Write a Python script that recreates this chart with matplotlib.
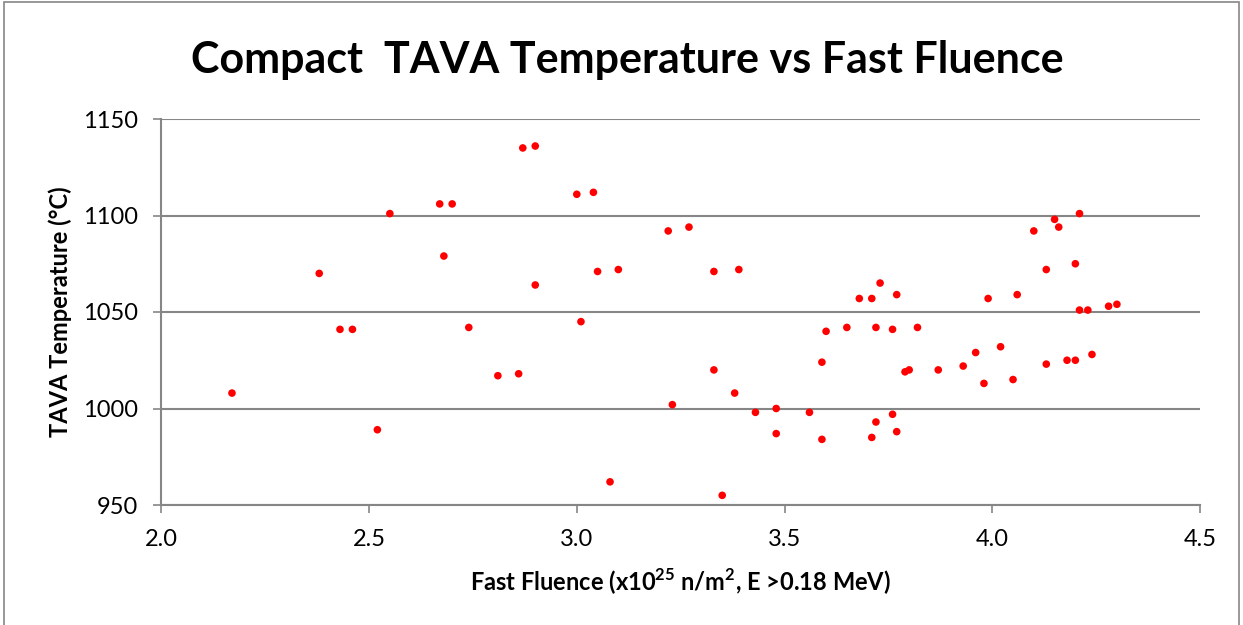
import matplotlib
matplotlib.use("Agg")
import matplotlib.pyplot as plt
from matplotlib.patches import Rectangle

fluence = [2.17, 2.38, 2.43, 2.46, 2.52, 2.55, 2.67, 2.70, 2.68, 2.74, 2.81, 2.86,
           2.87, 2.90, 2.90, 3.00, 3.04, 3.01, 3.05, 3.10, 3.08, 3.22, 3.27, 3.23,
           3.33, 3.39, 3.33, 3.35, 3.38, 3.43, 3.48, 3.48, 3.56, 3.59, 3.59, 3.60,
           3.65, 3.68, 3.71, 3.72, 3.71, 3.72, 3.73, 3.77, 3.76, 3.82, 3.79, 3.80,
           3.87, 3.93, 3.96, 3.98, 3.99, 4.02, 4.05, 4.06, 4.10, 4.13, 4.13, 4.15,
           4.16, 4.18, 4.20, 4.20, 4.21, 4.21, 4.23, 4.24, 4.28, 4.30, 3.76, 3.77]
temperature = [1008, 1070, 1041, 1041, 989, 1101, 1106, 1106, 1079, 1042, 1017, 1018,
               1135, 1136, 1064, 1111, 1112, 1045, 1071, 1072, 962, 1092, 1094, 1002,
               1071, 1072, 1020, 955, 1008, 998, 1000, 987, 998, 984, 1024, 1040,
               1042, 1057, 1057, 1042, 985, 993, 1065, 1059, 1041, 1042, 1019, 1020,
               1020, 1022, 1029, 1013, 1057, 1032, 1015, 1059, 1092, 1072, 1023, 1098,
               1094, 1025, 1025, 1075, 1101, 1051, 1051, 1028, 1053, 1054, 997, 988]
x_ticks = [2.0, 2.5, 3.0, 3.5, 4.0, 4.5]
y_ticks = [950, 1000, 1050, 1100, 1150]

plt.rcParams['font.family'] = ['Lato', 'DejaVu Sans']

fig = plt.figure(figsize=(12.43, 6.25), dpi=100)
ax = fig.add_axes([0.1298, 0.192, 0.9654 - 0.1298, 0.8096 - 0.192])

ax.scatter(fluence, temperature, s=30, color='#ff0000', edgecolors='none', zorder=3)

ax.set_xlim(2.0, 4.5)
ax.set_ylim(950, 1150)
ax.set_xticks(x_ticks)
ax.set_xticklabels([f"{t:.1f}" for t in x_ticks])
ax.set_yticks(y_ticks)
ax.set_yticklabels([str(t) for t in y_ticks])

gray = '#868686'
ax.grid(axis='y', color=gray, linewidth=1.5, zorder=0)
ax.set_axisbelow(True)
for s in ['top', 'right']:
    ax.spines[s].set_visible(False)
for s in ['left', 'bottom']:
    ax.spines[s].set_color(gray)
    ax.spines[s].set_linewidth(1.5)
ax.tick_params(axis='both', direction='out', length=6, width=1.2, color=gray,
               labelsize=17, labelcolor='black')
ax.tick_params(axis='x', pad=11)
ax.tick_params(axis='y', pad=11)

ax.set_xlabel(r'Fast Fluence (x10$^{\mathregular{25}}$ n/m$^{\mathregular{2}}$, E >0.18 MeV)',
              fontsize=17, fontweight='bold', labelpad=12)
ax.set_ylabel('TAVA Temperature (°C)', fontsize=17, fontweight='bold', labelpad=8)

fig.text(0.505, 0.904, 'Compact  TAVA Temperature vs Fast Fluence', ha='center', va='center',
         fontsize=31, fontweight='bold')

fig.patches.append(Rectangle((0.003, -0.01), 0.994, 1.007, transform=fig.transFigure,
                             fill=False, edgecolor=gray, linewidth=1.2))

fig.savefig('out.png', dpi=100)
